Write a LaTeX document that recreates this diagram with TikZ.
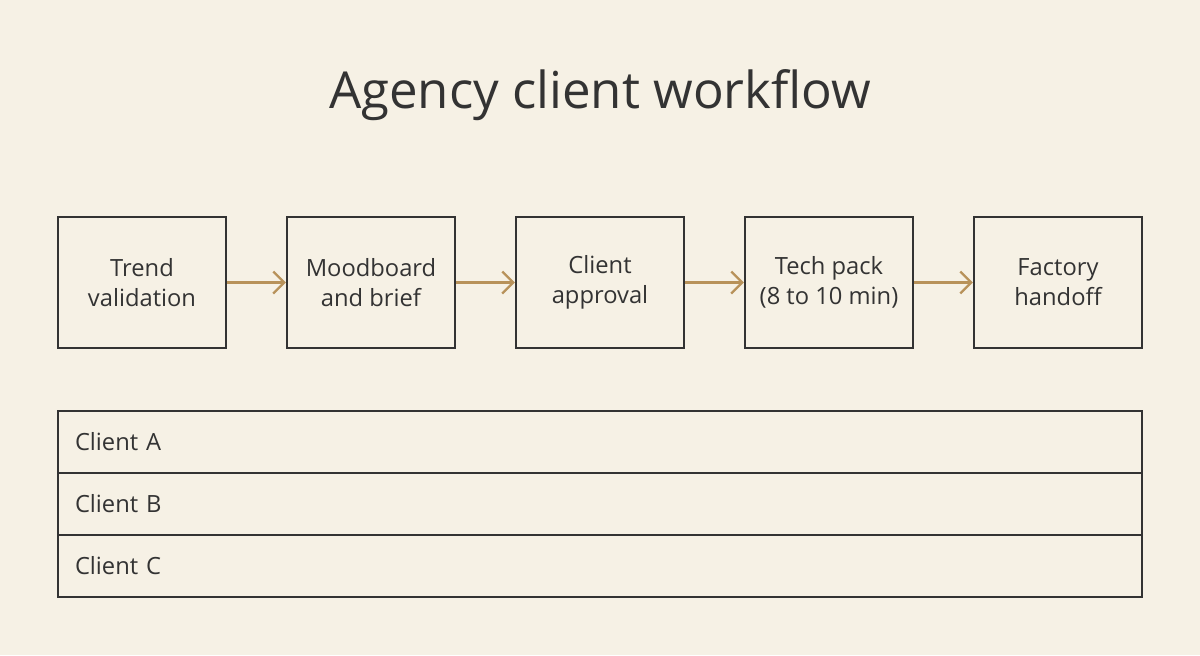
\documentclass[tikz,border=0pt]{standalone}
\usepackage{fontspec}
\setmainfont{Open Sans}
\usetikzlibrary{positioning,arrows.meta}
\definecolor{bg}{HTML}{F6F1E5}
\definecolor{ink}{HTML}{333333}
\definecolor{tan}{HTML}{B8925A}
\tikzstyle{stage} = [rectangle, draw=ink, line width=1.3pt, minimum width=3.36cm, minimum height=2.62cm, align=center, text=ink, font=\fontsize{13.5}{17}\selectfont]
\tikzstyle{lane} = [rectangle, draw=ink, line width=1.3pt, minimum width=21.68cm, minimum height=1.24cm, text width=21.0cm, align=left, text=ink, font=\fontsize{13.5}{17}\selectfont]
\tikzstyle{arrow} = [tan, line width=1.3pt, -{Straight Barb[length=2.2mm, width=4.4mm]}]

\begin{document}
\begin{tikzpicture}
    \fill[bg] (0,0) rectangle (24,-13.1);
    \useasboundingbox (0,0) rectangle (24,-13.1);

    \node (title) at (12,-1.9) [text=ink, font=\fontsize{29}{34}\selectfont] {Agency client workflow};

    \node (trend) at (2.84,-5.65) [stage] {Trend\\validation};
    \node (mood) at (7.42,-5.65) [stage] {Moodboard\\and brief};
    \node (approval) at (12.0,-5.65) [stage] {Client\\approval};
    \node (tech) at (16.58,-5.65) [stage] {Tech pack\\(8 to 10 min)};
    \node (factory) at (21.16,-5.65) [stage] {Factory\\handoff};

    \draw[arrow] (trend) -- (mood);
    \draw[arrow] (mood) -- (approval);
    \draw[arrow] (approval) -- (tech);
    \draw[arrow] (tech) -- (factory);

    \node (clientA) at (12,-8.84) [lane] {Client A};
    \node (clientB) at (12,-10.08) [lane] {Client B};
    \node (clientC) at (12,-11.32) [lane] {Client C};

\end{tikzpicture}
\end{document}
